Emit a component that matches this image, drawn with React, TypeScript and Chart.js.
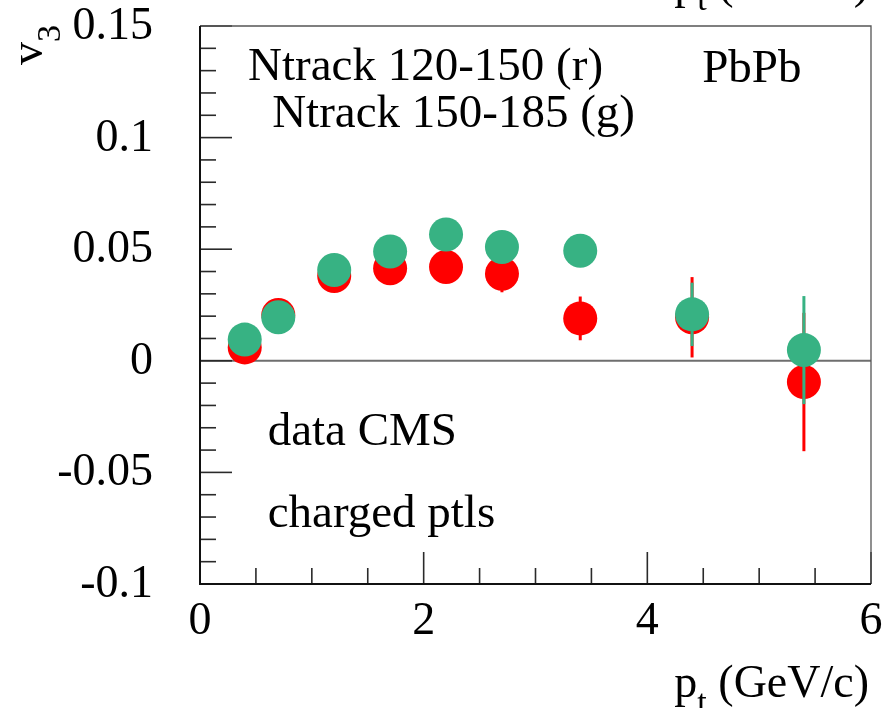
import React, { useEffect, useRef } from 'react';
import { Chart, registerables } from 'chart.js';

Chart.register(...registerables);

// Transverse momentum bins (GeV/c)
const ptValues = [0.4, 0.7, 1.2, 1.7, 2.2, 2.7, 3.4, 4.4, 5.4];

// v3 for Ntrack 120-150 (red) and its statistical errors
const v3Low = [0.006, 0.0205, 0.038, 0.0415, 0.042, 0.039, 0.019, 0.0195, -0.0095];
const v3LowErr = [0.002, 0.002, 0.003, 0.003, 0.004, 0.0083, 0.0098, 0.018, 0.031];

// v3 for Ntrack 150-185 (green) and its statistical errors
const v3High = [0.0095, 0.0195, 0.0407, 0.049, 0.0566, 0.051, 0.0493, 0.0208, 0.0048];
const v3HighErr = [0.001, 0.002, 0.002, 0.003, 0.003, 0.004, 0.005, 0.0142, 0.0242];

// Axis ranges and tick labels
const xMin = 0;
const xMax = 6;
const xStep = 2;
const xMinorStep = 0.5;
const xTickLabels = ['0', '2', '4', '6'];

const yMin = -0.1;
const yMax = 0.15;
const yStep = 0.05;
const yMinorStep = 0.01;
const yTickLabels = ['-0.1', '-0.05', '0', '0.05', '0.1', '0.15'];

// Text drawn inside the frame
const panelTexts = ['Ntrack 120-150 (r)', 'Ntrack 150-185 (g)', 'PbPb', 'data CMS', 'charged ptls'];

const RED = '#ff0000';
const GREEN = '#37b283';
const SERIF = '"Liberation Serif", "Times New Roman", serif';
const FONT_SIZE = 46;
const PANEL_FONT_SIZE = 47;
const SUB_SIZE = 34;

const errorsByDataset = [v3LowErr, v3HighErr];

function drawSubscripted(
  ctx: CanvasRenderingContext2D,
  base: string,
  sub: string,
  rest: string,
  x: number,
  y: number,
  drop: number
) {
  ctx.font = `${FONT_SIZE}px ${SERIF}`;
  ctx.fillText(base, x, y);
  let cx = x + ctx.measureText(base).width;
  ctx.font = `${SUB_SIZE}px ${SERIF}`;
  ctx.fillText(sub, cx, y + drop);
  cx += ctx.measureText(sub).width;
  if (rest) {
    ctx.font = `${FONT_SIZE}px ${SERIF}`;
    ctx.fillText(rest, cx, y);
  }
}

function titleWidth(ctx: CanvasRenderingContext2D, base: string, sub: string, rest: string) {
  ctx.font = `${FONT_SIZE}px ${SERIF}`;
  let w = ctx.measureText(base).width + ctx.measureText(rest).width;
  ctx.font = `${SUB_SIZE}px ${SERIF}`;
  w += ctx.measureText(sub).width;
  return w;
}

// Frame, inner ticks, zero line, error bars and the text labels
const framePlugin = {
  id: 'rootFrame',
  beforeDatasetsDraw(chart: any) {
    const { ctx, chartArea, scales } = chart;
    const { left, right, top, bottom } = chartArea;
    const xs = scales.x;
    const ys = scales.y;
    ctx.save();

    // zero line
    const y0 = ys.getPixelForValue(0);
    ctx.strokeStyle = '#6e6e6e';
    ctx.lineWidth = 2;
    ctx.beginPath();
    ctx.moveTo(left, y0);
    ctx.lineTo(right, y0);
    ctx.stroke();

    // ticks
    ctx.strokeStyle = '#2a2a2a';
    ctx.lineWidth = 1.6;
    const nYMinor = Math.round((yMax - yMin) / yMinorStep);
    for (let i = 0; i <= nYMinor; i++) {
      const v = yMin + i * yMinorStep;
      const isMajor = i % Math.round(yStep / yMinorStep) === 0;
      const py = ys.getPixelForValue(v);
      ctx.beginPath();
      ctx.moveTo(left, py);
      ctx.lineTo(left + (isMajor ? 32 : 16), py);
      ctx.stroke();
    }
    const nXMinor = Math.round((xMax - xMin) / xMinorStep);
    for (let i = 0; i <= nXMinor; i++) {
      const v = xMin + i * xMinorStep;
      const isMajor = i % Math.round(xStep / xMinorStep) === 0;
      const px = xs.getPixelForValue(v);
      ctx.beginPath();
      ctx.moveTo(px, bottom);
      ctx.lineTo(px, bottom - (isMajor ? 32 : 16));
      ctx.stroke();
    }

    // frame: top and right thin, left and bottom axes heavier
    ctx.strokeStyle = '#555';
    ctx.lineWidth = 1.3;
    ctx.beginPath();
    ctx.moveTo(left, top);
    ctx.lineTo(right, top);
    ctx.lineTo(right, bottom);
    ctx.stroke();
    ctx.strokeStyle = '#111';
    ctx.lineWidth = 2;
    ctx.beginPath();
    ctx.moveTo(left, top);
    ctx.lineTo(left, bottom);
    ctx.lineTo(right, bottom);
    ctx.stroke();

    ctx.fillStyle = '#000';

    // y tick labels, right-aligned left of the axis at each scale tick
    ctx.font = `${FONT_SIZE}px ${SERIF}`;
    ctx.textAlign = 'right';
    ctx.textBaseline = 'middle';
    ys.ticks.forEach((t: any) => {
      const label = yTickLabels[Math.round((t.value - yMin) / yStep)];
      ctx.fillText(label, left - 47, ys.getPixelForValue(t.value) + 1);
    });

    // panel texts, placed in data coordinates
    ctx.textAlign = 'left';
    ctx.textBaseline = 'alphabetic';
    ctx.font = `${PANEL_FONT_SIZE}px ${SERIF}`;
    const spots = [
      [0.43, 0.1258],
      [0.645, 0.1047],
      [4.49, 0.125],
      [0.605, -0.0377],
      [0.605, -0.0745],
    ];
    panelTexts.forEach((t, i) => {
      ctx.fillText(t, xs.getPixelForValue(spots[i][0]), ys.getPixelForValue(spots[i][1]));
    });

    // axis titles
    const tw = titleWidth(ctx, 'p', 't', ' (GeV/c)');
    const tx = right - 2 - tw;
    drawSubscripted(ctx, 'p', 't', ' (GeV/c)', tx, 697, 16);
    drawSubscripted(ctx, 'p', 't', ' (GeV/c)', tx, -2, 12);

    ctx.save();
    ctx.translate(42, 65);
    ctx.rotate(-Math.PI / 2);
    drawSubscripted(ctx, 'v', '3', '', 0, 0, 18);
    ctx.restore();

    ctx.restore();
  },
  beforeDatasetDraw(chart: any, args: any) {
    const errs = errorsByDataset[args.index];
    if (!errs) return;
    const { ctx, chartArea, scales } = chart;
    const ds = chart.data.datasets[args.index];
    ctx.save();
    ctx.beginPath();
    ctx.rect(chartArea.left, chartArea.top, chartArea.right - chartArea.left, chartArea.bottom - chartArea.top);
    ctx.clip();
    ctx.strokeStyle = ds.backgroundColor;
    ctx.lineWidth = 3;
    ds.data.forEach((p: any, i: number) => {
      const px = scales.x.getPixelForValue(p.x);
      ctx.beginPath();
      ctx.moveTo(px, scales.y.getPixelForValue(p.y + errs[i]));
      ctx.lineTo(px, scales.y.getPixelForValue(p.y - errs[i]));
      ctx.stroke();
    });
    ctx.restore();
  },
};

export default function App() {
  const canvasRef = useRef<HTMLCanvasElement | null>(null);

  useEffect(() => {
    const canvas = canvasRef.current;
    if (!canvas) return;
    const tickFont = { family: SERIF, size: FONT_SIZE };
    const chart = new Chart(canvas, {
      type: 'scatter',
      data: {
        datasets: [
          {
            label: 'Ntrack 120-150',
            data: ptValues.map((x, i) => ({ x, y: v3Low[i] })),
            backgroundColor: RED,
            borderColor: RED,
            borderWidth: 0,
            pointRadius: 17,
            pointHoverRadius: 17,
            order: 2,
          },
          {
            label: 'Ntrack 150-185',
            data: ptValues.map((x, i) => ({ x, y: v3High[i] })),
            backgroundColor: GREEN,
            borderColor: GREEN,
            borderWidth: 0,
            pointRadius: 17,
            pointHoverRadius: 17,
            order: 1,
          },
        ],
      },
      options: {
        animation: false,
        responsive: false,
        devicePixelRatio: 1,
        events: [],
        layout: { padding: { top: 26, right: 24, left: 0, bottom: 0 } },
        plugins: { legend: { display: false }, tooltip: { enabled: false } },
        scales: {
          x: {
            type: 'linear',
            min: xMin,
            max: xMax,
            afterFit: (s: any) => {
              s.height = 124;
            },
            afterBuildTicks: (s: any) => {
              s.ticks = xTickLabels.map((_, i) => ({ value: xMin + i * xStep }));
            },
            grid: { display: false, drawTicks: false },
            border: { display: false },
            ticks: {
              font: tickFont,
              color: '#000',
              padding: 10,
              maxRotation: 0,
              autoSkip: false,
              callback: (v: any) => xTickLabels[Math.round((v - xMin) / xStep)],
            },
          },
          y: {
            type: 'linear',
            min: yMin,
            max: yMax,
            afterFit: (s: any) => {
              s.width = 200;
            },
            afterBuildTicks: (s: any) => {
              s.ticks = yTickLabels.map((_, i) => ({ value: yMin + i * yStep }));
            },
            grid: { display: false, drawTicks: false },
            border: { display: false },
            ticks: { display: false },
          },
        },
      },
      plugins: [framePlugin],
    } as any);
    return () => chart.destroy();
  }, []);

  return (
    <div style={{ position: 'fixed', left: 0, top: 0, width: 895, height: 708, background: '#fff' }}>
      <canvas ref={canvasRef} width={895} height={708} style={{ display: 'block' }} />
    </div>
  );
}
